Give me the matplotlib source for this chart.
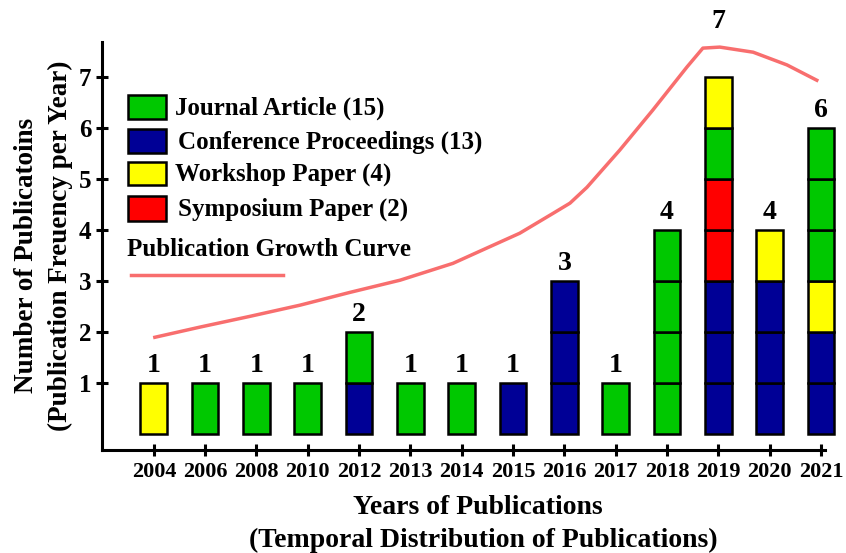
import numpy as np
import matplotlib.pyplot as plt
from matplotlib.patches import Rectangle
from matplotlib.lines import Line2D

plt.rcParams['font.family'] = ['Liberation Serif', 'DejaVu Serif']
plt.rcParams['font.weight'] = 'bold'

# 연도별 발표 유형 (아래에서 위로 쌓인 순서)
years = ['2004', '2006', '2008', '2010', '2012', '2013', '2014',
         '2015', '2016', '2017', '2018', '2019', '2020', '2021']
stacks = [
    ['W'], ['J'], ['J'], ['J'], ['C', 'J'], ['J'], ['J'],
    ['C'], ['C', 'C', 'C'], ['J'], ['J', 'J', 'J', 'J'],
    ['C', 'C', 'C', 'S', 'S', 'J', 'W'],
    ['C', 'C', 'C', 'W'],
    ['C', 'C', 'W', 'J', 'J', 'J'],
]

type_names = {'J': 'Journal Article', 'C': 'Conference Proceedings',
              'W': 'Workshop Paper', 'S': 'Symposium Paper'}
type_order = ['J', 'C', 'W', 'S']
type_colors = {'J': '#00C800', 'C': '#000096', 'W': '#FFFF00', 'S': '#FF0000'}

# 성장 곡선 (x: 연도 인덱스, y: 값) - 그림에서 읽은 값
curve_x = [0.02, 0.90, 1.87, 2.85, 3.82, 4.80, 5.83, 6.49, 7.13, 7.78,
           8.11, 8.44, 9.08, 9.72, 10.39, 10.70, 11.03, 11.68, 12.34, 12.92]
curve_y = [1.90, 2.10, 2.31, 2.53, 2.78, 3.02, 3.35, 3.65, 3.94, 4.33,
           4.53, 4.84, 5.57, 6.35, 7.20, 7.57, 7.59, 7.49, 7.24, 6.94]
curve_color = '#F86E6E'

W, H = 846, 553
fig = plt.figure(figsize=(W / 100, H / 100), dpi=100)
ax = fig.add_axes([102 / W, 1 - 450 / H, (825 - 102) / W, (450 - 42) / H])

x = np.arange(len(years))
bar_w = 0.52

for level in range(max(len(s) for s in stacks)):
    for i, s in enumerate(stacks):
        if level < len(s):
            ax.bar(x[i], 1, bottom=level, width=bar_w,
                   color=type_colors[s[level]], edgecolor='black',
                   linewidth=1.8, zorder=3, clip_on=False)

ax.plot(curve_x, curve_y, color=curve_color, linewidth=2.5, zorder=4)

# 막대 위 개수 라벨 (곡선이 바로 위에 있으면 곡선 위로)
for i, s in enumerate(stacks):
    total = len(s)
    cy = np.interp(x[i], curve_x, curve_y)
    y_lab = total + 0.1
    if 0 < cy - total < 0.7:
        y_lab = cy + 0.25
    ax.text(x[i], y_lab, str(total), ha='center', va='bottom',
            fontsize=20, fontweight='bold', clip_on=False)

ax.set_xlim(-1.01, 13.08)
ax.set_ylim(-0.31, 7.69)
ax.set_xticks(x)
ax.set_xticklabels(years, fontsize=16, fontweight='bold')
ax.set_yticks(range(1, 8))
ax.set_yticklabels([str(v) for v in range(1, 8)], fontsize=18, fontweight='bold')
ax.tick_params(axis='both', direction='inout', length=9, width=2.2)
ax.tick_params(axis='x', pad=4)
ax.tick_params(axis='y', pad=3)

for sp in ['top', 'right']:
    ax.spines[sp].set_visible(False)
for sp in ['left', 'bottom']:
    ax.spines[sp].set_linewidth(2.2)

# 범례 (수동 배치)
def fx(px):
    return px / W

def fy(py):
    return 1 - py / H

legend_rows = [(95, 119), (129, 153), (162, 185), (196, 221)]
text_x = [175, 178, 175, 178]
for k, t in enumerate(type_order):
    top, bot = legend_rows[k]
    count = sum(s.count(t) for s in stacks)
    fig.add_artist(Rectangle((fx(128), fy(bot)), fx(166) - fx(128), fy(top) - fy(bot),
                             transform=fig.transFigure, facecolor=type_colors[t],
                             edgecolor='black', linewidth=1.8))
    fig.text(fx(text_x[k]), fy((top + bot) / 2 + 1), f'{type_names[t]} ({count})',
             ha='left', va='center', fontsize=18, fontweight='bold')

fig.text(fx(127), fy(250), 'Publication Growth Curve', ha='left', va='center',
         fontsize=18, fontweight='bold')
fig.add_artist(Line2D([fx(131), fx(283)], [fy(275), fy(275)],
                      transform=fig.transFigure, color=curve_color, linewidth=2.5))

# 축 제목
fig.text(fx(478), fy(507), 'Years of Publications', ha='center', va='center',
         fontsize=20, fontweight='bold')
fig.text(fx(483), fy(540), '(Temporal Distribution of Publications)',
         ha='center', va='center', fontsize=20, fontweight='bold')
fig.text(fx(27), fy(255), 'Number of Publicatoins', ha='center', va='center',
         rotation=90, fontsize=19.5, fontweight='bold')
fig.text(fx(60), fy(246), '(Publication Freuency per Year)', ha='center',
         va='center', rotation=90, fontsize=19.5, fontweight='bold')

fig.savefig('out.png', dpi=100)
